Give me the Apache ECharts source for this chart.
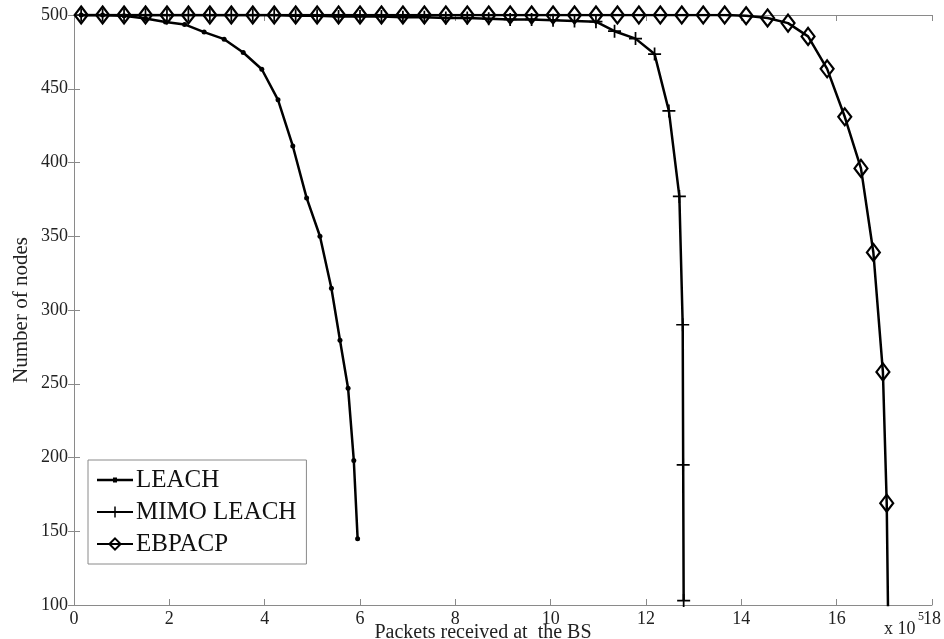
<!DOCTYPE html>
<html>
<head>
<meta charset="utf-8">
<script src="https://cdn.jsdelivr.net/npm/echarts/dist/echarts.min.js"></script>
<style>
  html, body { margin: 0; padding: 0; background: #fff; }
  .chart { width: 944px; height: 639px; }
</style>
</head>
<body>
<div class="chart"></div>
<script>
// packets received at the BS (x 10^5) and number of alive nodes
const leachX = [0.15, 0.60, 1.05, 1.50, 1.92, 2.32, 2.73, 3.15, 3.55, 3.94, 4.28, 4.59, 4.88, 5.16, 5.40, 5.58, 5.75, 5.87, 5.95];
const leachY = [500, 500, 499.5, 497.6, 495.2, 493.6, 488.4, 483.6, 474.6, 463.2, 442.5, 411.2, 376, 350, 314.7, 279.5, 247, 198, 145];

const mimoX = [0.15, 0.60, 1.05, 1.50, 1.95, 2.40, 2.85, 3.30, 3.75, 4.20, 4.65, 5.10, 5.55, 6.00, 6.45, 6.90, 7.35, 7.80, 8.25, 8.70, 9.15, 9.60, 10.05, 10.50, 10.95, 11.34, 11.78, 12.18, 12.48, 12.70, 12.77, 12.78, 12.79];
const mimoY = [500, 500, 500, 500, 500, 500, 500, 500, 500, 500, 499.5, 499.5, 499, 499, 499, 498.5, 498.5, 498, 498, 497.5, 497, 497, 496.5, 496, 495.5, 489, 484, 473.5, 435, 377, 290, 195, 103];

const ebpacpX = [0.15, 0.60, 1.05, 1.50, 1.95, 2.40, 2.85, 3.30, 3.75, 4.20, 4.65, 5.10, 5.55, 6.00, 6.45, 6.90, 7.35, 7.80, 8.25, 8.70, 9.15, 9.60, 10.05, 10.50, 10.95, 11.40, 11.85, 12.30, 12.75, 13.20, 13.65, 14.10, 14.55, 14.98, 15.40, 15.80, 16.17, 16.51, 16.77, 16.97, 17.05, 17.08];
const ebpacpY = [500, 500, 500, 500, 500, 500, 500, 500, 500, 500, 500, 500, 500, 500, 500, 500, 500, 500, 500, 500, 500, 500, 500, 500, 500, 500, 500, 500, 500, 500, 500, 499.5, 498, 494.5, 485.5, 463.5, 431, 396, 339, 258, 169, 90];

const seriesNames = ['LEACH', 'MIMO LEACH', 'EBPACP'];

(() => {
    window.addEventListener('load', () => {
        let chart = echarts.init(document.querySelector('.chart'));
        const font = 'Liberation Serif';
        const frame = { show: true, lineStyle: { color: '#8a8a8a', width: 1 } };
        const ticks = { show: true, inside: true, length: 6, lineStyle: { color: '#8a8a8a' } };
        const plus = 'path://M0,5.2L12,5.2L12,6.8L0,6.8Z M5.2,0L6.8,0L6.8,12L5.2,12Z';
        // legend icon for LEACH: line with a small dot
        const dotLine = 'path://M0,1.3L36,1.3L36,3.7L0,3.7Z M16,0L20,0L20,5L16,5Z';
        const pairs = (xs, ys) => xs.map((x, i) => [x, ys[i]]);

        let option = {
            animation: false,
            backgroundColor: '#fff',
            grid: { left: 74, right: 12, top: 15, bottom: 34, outerBoundsMode: 'none', containLabel: false },
            legend: {
                orient: 'vertical',
                left: 88,
                top: 460,
                padding: [7, 10, 7, 8],
                itemGap: 6,
                itemWidth: 36,
                itemHeight: 14,
                backgroundColor: '#fff',
                borderColor: '#8a8a8a',
                borderWidth: 1,
                borderRadius: 0,
                textStyle: { fontFamily: font, fontSize: 25, color: '#111', lineHeight: 26, padding: [0, 0, 0, -2] },
                data: [
                    { name: seriesNames[0], icon: dotLine },
                    { name: seriesNames[1] },
                    { name: seriesNames[2] }
                ]
            },
            xAxis: [
                {
                    type: 'value', min: 0, max: 18, interval: 2,
                    name: 'Packets received at  the BS',
                    nameLocation: 'middle', nameGap: 18, nameMoveOverlap: false,
                    nameTextStyle: { fontFamily: font, fontSize: 20, color: '#222', padding: [0, 40, 0, 0] },
                    axisLine: frame,
                    axisTick: ticks,
                    axisLabel: { fontFamily: font, fontSize: 18, color: '#222', margin: 5 },
                    splitLine: { show: false }
                },
                {
                    type: 'value', min: 0, max: 18, interval: 2, position: 'top',
                    axisLine: frame,
                    axisTick: ticks,
                    axisLabel: { show: false },
                    splitLine: { show: false }
                }
            ],
            yAxis: [
                {
                    type: 'value', min: 100, max: 500, interval: 50,
                    name: 'Number of nodes',
                    nameLocation: 'middle', nameGap: 42, nameMoveOverlap: false,
                    nameTextStyle: { fontFamily: font, fontSize: 21, color: '#222' },
                    axisLine: frame,
                    axisTick: ticks,
                    axisLabel: { fontFamily: font, fontSize: 18, color: '#222', margin: 6 },
                    splitLine: { show: false }
                },
                {
                    type: 'value', min: 100, max: 500, interval: 50, position: 'right',
                    axisLine: frame,
                    axisTick: ticks,
                    axisLabel: { show: false },
                    splitLine: { show: false }
                }
            ],
            graphic: [
                {
                    type: 'text', left: 884, top: 620,
                    style: { text: 'x 10', fontFamily: font, fontSize: 18, fill: '#222' }
                },
                {
                    type: 'text', left: 918, top: 611,
                    style: { text: '5', fontFamily: font, fontSize: 12, fill: '#222' }
                }
            ],
            series: [
                {
                    name: seriesNames[0], type: 'line', clip: true,
                    data: pairs(leachX, leachY),
                    symbol: 'circle', symbolSize: 5,
                    lineStyle: { color: '#000', width: 2.5 },
                    itemStyle: { color: '#000' }
                },
                {
                    name: seriesNames[1], type: 'line', clip: true,
                    data: pairs(mimoX, mimoY),
                    symbol: plus, symbolSize: 13,
                    lineStyle: { color: '#000', width: 2.5 },
                    itemStyle: { color: '#000' }
                },
                {
                    name: seriesNames[2], type: 'line', clip: true,
                    data: pairs(ebpacpX, ebpacpY),
                    symbol: 'diamond', symbolSize: [13, 17],
                    lineStyle: { color: '#000', width: 2.5 },
                    itemStyle: { color: 'rgba(255,255,255,0)', borderColor: '#000', borderWidth: 2.2 }
                }
            ]
        };
        chart.setOption(option);
    });
})();
</script>
</body>
</html>
